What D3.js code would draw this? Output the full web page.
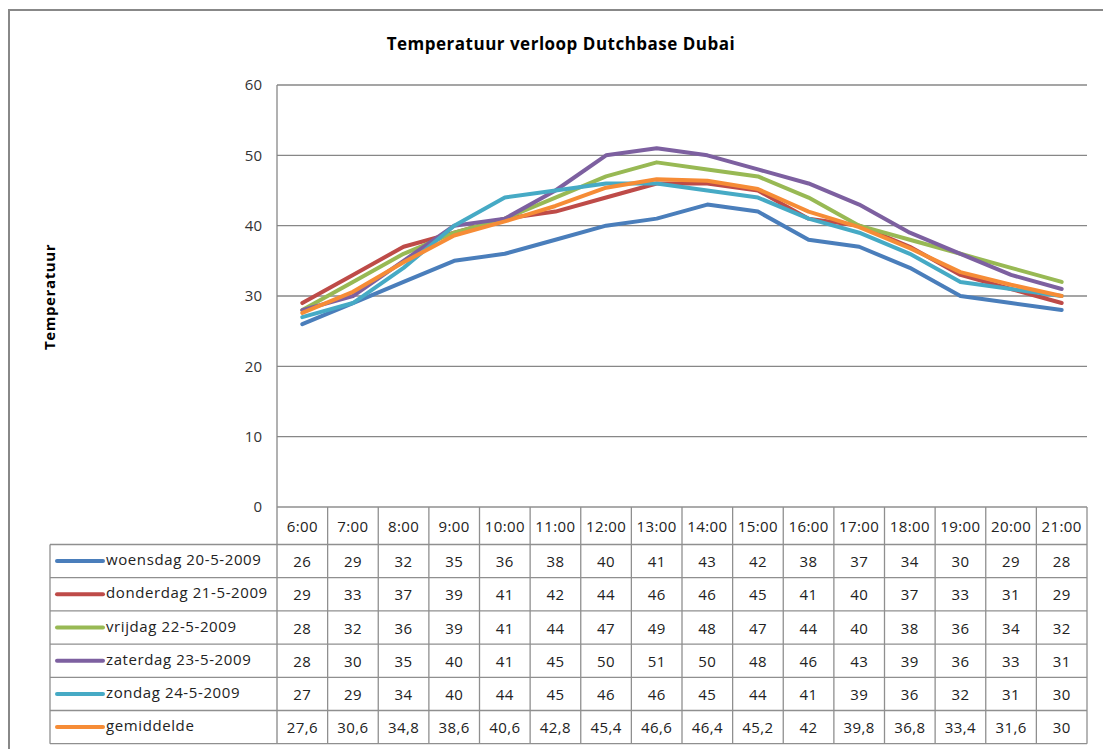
<!DOCTYPE html>
<html><head><meta charset="utf-8">
<script src="https://cdn.jsdelivr.net/npm/d3@7"></script>
<style>body{margin:0;background:#fff;} svg{display:block;font-family:"Open Sans","Noto Sans",sans-serif;}</style>
</head><body><svg id="c" width="1103" height="749"></svg>
<script>
const hours = ["6:00","7:00","8:00","9:00","10:00","11:00","12:00","13:00","14:00","15:00","16:00","17:00","18:00","19:00","20:00","21:00"];
const seriesNames = ["woensdag 20-5-2009","donderdag 21-5-2009","vrijdag 22-5-2009","zaterdag 23-5-2009","zondag 24-5-2009","gemiddelde"];
const woensdag = [26,29,32,35,36,38,40,41,43,42,38,37,34,30,29,28];
const donderdag = [29,33,37,39,41,42,44,46,46,45,41,40,37,33,31,29];
const vrijdag = [28,32,36,39,41,44,47,49,48,47,44,40,38,36,34,32];
const zaterdag = [28,30,35,40,41,45,50,51,50,48,46,43,39,36,33,31];
const zondag = [27,29,34,40,44,45,46,46,45,44,41,39,36,32,31,30];
const gemiddelde = [27.6,30.6,34.8,38.6,40.6,42.8,45.4,46.6,46.4,45.2,42,39.8,36.8,33.4,31.6,30];
const yTicks = [0,10,20,30,40,50,60];
const colors = ["#4A7EBB","#BE4B48","#98B954","#7D60A0","#46AAC5","#F68C36"];
const allSeries = [woensdag,donderdag,vrijdag,zaterdag,zondag,gemiddelde];

const svg = d3.select("#c");
svg.append("rect").attr("x",9).attr("y",10).attr("width",1110).attr("height",760)
  .attr("fill","none").attr("stroke","#888").attr("stroke-width",2);

const L=277, R=1087, T=85, B=507;
const x = d3.scaleBand().domain(hours).range([L,R]);
const y = d3.scaleLinear().domain([0,60]).range([B,T]);

svg.append("text").attr("x",561).attr("y",50).attr("text-anchor","middle")
  .attr("font-size",17).attr("font-weight","bold").attr("letter-spacing",0.5).attr("fill","#000")
  .text("Temperatuur verloop Dutchbase Dubai");
svg.append("text").attr("transform","translate(55,297) rotate(-90)").attr("text-anchor","middle")
  .attr("font-size",15).attr("font-weight","bold").attr("letter-spacing",0.6).text("Temperatuur");

const g = svg.append("g");
g.selectAll("line.grid").data(yTicks.filter(d=>d>0)).join("line")
  .attr("x1",L).attr("x2",R).attr("y1",d=>y(d)).attr("y2",d=>y(d))
  .attr("stroke","#878787").attr("stroke-width",1.3);
const yAxis = d3.axisLeft(y).tickValues(yTicks).tickSize(0).tickPadding(15).tickFormat(d3.format("d"));
const ya = svg.append("g").attr("transform",`translate(${L},0)`).call(yAxis);
ya.select(".domain").remove();
ya.selectAll("text").attr("font-size",15).attr("fill","#333").attr("font-family","Open Sans, Noto Sans, sans-serif");
svg.append("line").attr("x1",L).attr("x2",L).attr("y1",T).attr("y2",743).attr("stroke","#878787").attr("stroke-width",1.3);

const rowH = 33.2;
const headTop = B, headBot = 544.5;
const tableLeft = 50;
const rowTop = i => headBot + i*rowH;
const tg = svg.append("g").attr("stroke","#8f8f8f").attr("stroke-width",1.3);
tg.append("line").attr("x1",L).attr("x2",R).attr("y1",headTop).attr("y2",headTop);
for(let i=0;i<=seriesNames.length;i++){
  tg.append("line").attr("x1",tableLeft).attr("x2",R).attr("y1",rowTop(i)).attr("y2",rowTop(i));
}
tg.append("line").attr("x1",tableLeft).attr("x2",tableLeft).attr("y1",headBot).attr("y2",rowTop(seriesNames.length));
hours.forEach(h=>{
  tg.append("line").attr("x1",x(h)+x.bandwidth()).attr("x2",x(h)+x.bandwidth()).attr("y1",headTop).attr("y2",rowTop(seriesNames.length));
});
svg.append("g").selectAll("text").data(hours).join("text")
  .attr("x",h=>x(h)+x.bandwidth()/2).attr("y",(headTop+headBot)/2+6).attr("text-anchor","middle")
  .attr("font-size",15).attr("letter-spacing",0.4).attr("fill","#222").text(d=>d);
const fmt = v => String(v).replace(".",",");
allSeries.forEach((s,i)=>{
  const cy = rowTop(i)+rowH/2+5;
  svg.append("line").attr("x1",57).attr("x2",103).attr("y1",cy-5).attr("y2",cy-5)
    .attr("stroke",colors[i]).attr("stroke-width",4).attr("stroke-linecap","round");
  svg.append("text").attr("x",106).attr("y",cy-1).attr("font-size",15).attr("letter-spacing",0.6).attr("fill","#222").text(seriesNames[i]);
  svg.append("g").selectAll("text").data(s).join("text")
    .attr("x",(d,j)=>x(hours[j])+x.bandwidth()/2).attr("y",cy+1).attr("text-anchor","middle")
    .attr("font-size",15).attr("letter-spacing",0.4).attr("fill","#222").text(fmt);
});

const line = d3.line().x((d,j)=>x(hours[j])+x.bandwidth()/2).y(d=>y(d));
allSeries.forEach((s,i)=>{
  svg.append("path").datum(s).attr("d",line).attr("fill","none")
    .attr("stroke",colors[i]).attr("stroke-width",4).attr("stroke-linejoin","round").attr("stroke-linecap","round");
});
</script></body></html>
